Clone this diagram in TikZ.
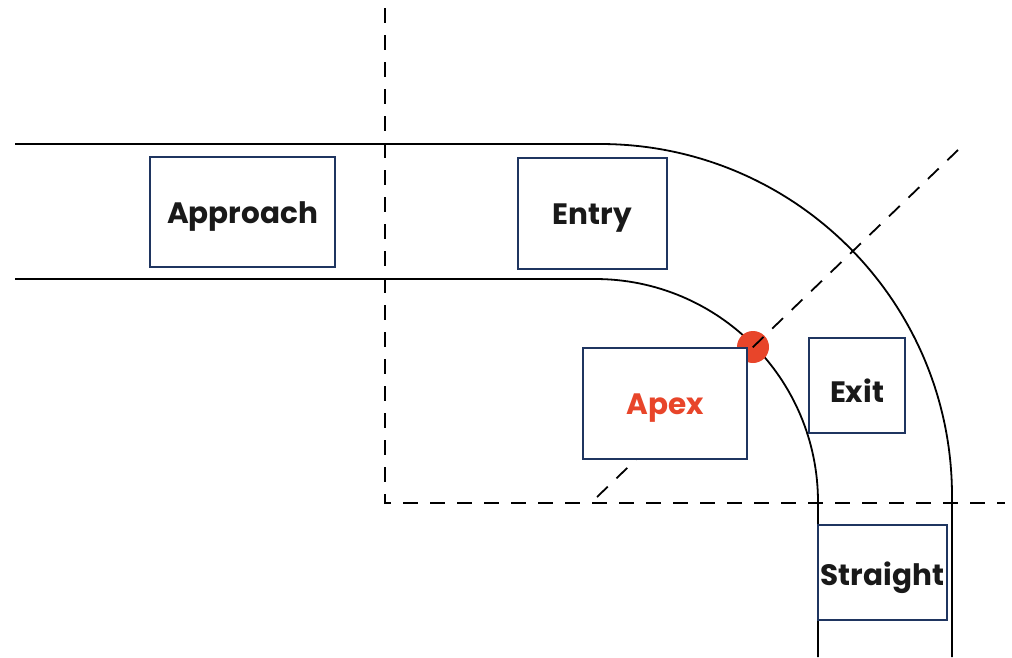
\documentclass[tikz,border=0pt]{standalone}
\usepackage{fontspec}
\setmainfont{Poppins}
\definecolor{boxblue}{HTML}{1F3560}
\definecolor{apexred}{HTML}{E8452A}
\newcommand\zonetext[1]{\raisebox{-5pt}[\height][\depth]{#1}}
\begin{document}
\begin{tikzpicture}[x=1pt,y=-1pt,
  road/.style={line width=1.8pt, black},
  guide/.style={line width=1.8pt, black, dash pattern=on 15pt off 12pt},
  zone/.style={draw=boxblue, line width=1.4pt, fill=white, inner sep=0pt,
    font=\fontsize{29.5}{34}\selectfont\bfseries, text=black!90}]
\useasboundingbox (0,0) rectangle (1012,657);
% road edges
\coordinate (o1) at (15,144);
\coordinate (o2) at (600,144);
\coordinate (o4) at (952,657);
\coordinate (i1) at (15,279);
\coordinate (i2) at (595,279);
\coordinate (i4) at (818,657);
\draw[road] (o1) -- (o2) arc[start angle=-90, end angle=0, radius=352] -- (o4);
\draw[road] (i1) -- (i2) arc[start angle=-90, end angle=0, radius=223] -- (i4);
% apex dot
\fill[apexred] (753,347) circle[radius=16];
% guides
\coordinate (v1) at (385,8);
\coordinate (c) at (385,503);
\coordinate (h2) at (1005,503);
\coordinate (d1) at (597,497);
\coordinate (d2) at (958,150);
\draw[guide] (v1) -- (c) -- (h2);
\draw[guide] (d1) -- (d2);
% zones
\node[zone, minimum width=185pt, minimum height=110pt] (approach) at (242.5,212) {\zonetext{Approach}};
\node[zone, minimum width=149pt, minimum height=111pt] (entry) at (592.5,213.5) {\zonetext{Entry}};
\node[zone, minimum width=164pt, minimum height=111pt, text=apexred] (apex) at (665,403.5) {\zonetext{Apex}};
\node[zone, minimum width=96pt, minimum height=95pt] (exit) at (857,385.5) {\zonetext{Exit}};
\node[zone, minimum width=129pt, minimum height=95pt] (straight) at (882.5,572.5) {\zonetext{Straight}};
\end{tikzpicture}
\end{document}
